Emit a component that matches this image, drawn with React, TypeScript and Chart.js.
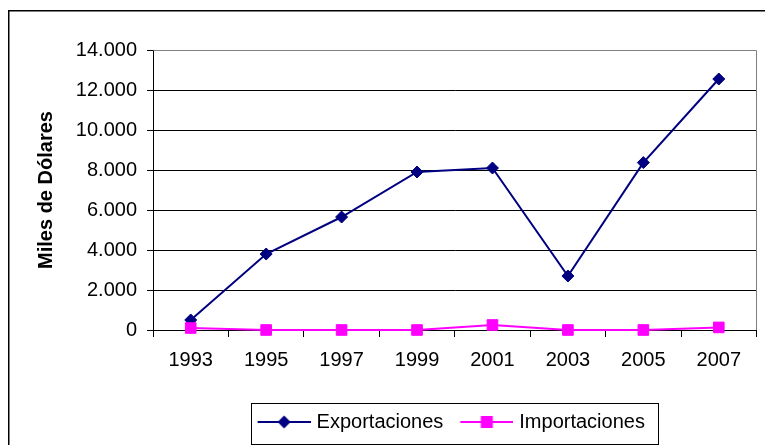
import React, { useEffect, useRef } from "react";
import { Chart, registerables } from "chart.js";

Chart.register(...registerables);

const years = ["1993", "1995", "1997", "1999", "2001", "2003", "2005", "2007"];
const exportaciones = [500, 3800, 5650, 7900, 8100, 2700, 8370, 12550];
const importaciones = [100, 0, 0, 0, 250, 0, 0, 130];
const seriesNames = ["Exportaciones", "Importaciones"];
const yAxisTitle = "Miles de Dólares";
const yMin = 0;
const yMax = 14000;
const yStep = 2000;

const NAVY = "#000080";
const MAGENTA = "#FF00FF";
const FONT = "'Liberation Sans', Arial, sans-serif";

function makeSwatch(color: string, kind: "diamond" | "square"): HTMLCanvasElement {
  const c = document.createElement("canvas");
  c.width = 64;
  c.height = 16;
  const g = c.getContext("2d")!;
  g.strokeStyle = color;
  g.lineWidth = 2;
  g.beginPath();
  g.moveTo(11, 8);
  g.lineTo(64, 8);
  g.stroke();
  g.fillStyle = color;
  const cx = 37.5;
  if (kind === "diamond") {
    g.beginPath();
    g.moveTo(cx - 6.5, 8);
    g.lineTo(cx, 1.5);
    g.lineTo(cx + 6.5, 8);
    g.lineTo(cx, 14.5);
    g.closePath();
    g.fill();
  } else {
    g.fillRect(cx - 6, 2, 12, 12);
  }
  return c;
}

export default function App() {
  const ref = useRef<HTMLCanvasElement | null>(null);

  useEffect(() => {
    if (!ref.current) return;
    const swatches = [makeSwatch(NAVY, "diamond"), makeSwatch(MAGENTA, "square")];

    const framePlugin = {
      id: "frame",
      afterLayout(chart: any) {
        const lg = chart.legend;
        if (lg) {
          lg.left -= 7;
          lg.right -= 7;
        }
      },
      beforeDraw(chart: any) {
        const ctx = chart.ctx;
        ctx.save();
        ctx.fillStyle = "#fff";
        ctx.fillRect(0, 0, chart.width, chart.height);
        ctx.strokeStyle = "#000";
        ctx.lineWidth = 1.5;
        ctx.strokeRect(8.75, 10.75, 1000, 1000);
        ctx.restore();
      },
      beforeDatasetsDraw(chart: any) {
        const { ctx, chartArea } = chart;
        ctx.save();
        ctx.strokeStyle = "#808080";
        ctx.lineWidth = 1;
        ctx.beginPath();
        ctx.moveTo(Math.round(chartArea.left) + 0.5, Math.round(chartArea.top) + 0.5);
        ctx.lineTo(Math.round(chartArea.right) - 0.5, Math.round(chartArea.top) + 0.5);
        ctx.lineTo(Math.round(chartArea.right) - 0.5, Math.round(chartArea.bottom));
        ctx.stroke();
        ctx.restore();
      },
      afterDraw(chart: any) {
        const lg = chart.legend;
        if (!lg || !lg.legendHitBoxes || !lg.legendHitBoxes.length) return;
        const hb = lg.legendHitBoxes;
        const first = hb[0];
        const last = hb[hb.length - 1];
        const left = Math.round(first.left) + 0.5;
        const right = Math.round(last.left + last.width + 13) + 0.5;
        const top = Math.round(first.top - 9) + 0.5;
        const bottom = Math.round(first.top + first.height + 12) + 0.5;
        const ctx = chart.ctx;
        ctx.save();
        ctx.strokeStyle = "#000";
        ctx.lineWidth = 1;
        ctx.strokeRect(left, top, right - left, bottom - top);
        ctx.restore();
      },
    };

    const chart = new Chart(ref.current, {
      type: "line",
      data: {
        labels: years,
        datasets: [
          {
            label: seriesNames[0],
            data: exportaciones,
            borderColor: NAVY,
            backgroundColor: NAVY,
            borderWidth: 2,
            pointStyle: "rectRot",
            pointRadius: 6,
            pointBorderWidth: 1,
            pointBackgroundColor: NAVY,
            pointBorderColor: NAVY,
            tension: 0,
            clip: false,
            order: 1,
          },
          {
            label: seriesNames[1],
            data: importaciones,
            borderColor: MAGENTA,
            backgroundColor: MAGENTA,
            borderWidth: 2,
            pointStyle: "rect",
            pointRadius: 7.5,
            pointBorderWidth: 1,
            pointBackgroundColor: MAGENTA,
            pointBorderColor: MAGENTA,
            tension: 0,
            clip: false,
            order: 0,
          },
        ],
      },
      options: {
        responsive: false,
        animation: false,
        devicePixelRatio: 1,
        layout: { padding: { top: 50, right: 5, left: 0, bottom: 3 } },
        font: { family: FONT, size: 20 },
        color: "#000",
        plugins: {
          tooltip: { enabled: false },
          legend: {
            position: "bottom",
            fullSize: false,
            labels: {
              usePointStyle: true,
              pointStyleWidth: 56,
              boxWidth: 56,
              padding: 10,
              color: "#000",
              font: { family: FONT, size: 20 },
              generateLabels: (chart: any) =>
                chart.data.datasets.map((ds: any, i: number) => ({
                  text: ds.label,
                  datasetIndex: i,
                  pointStyle: swatches[i],
                  fillStyle: ds.borderColor,
                  strokeStyle: ds.borderColor,
                  lineWidth: 0,
                  hidden: false,
                  fontColor: "#000",
                })),
            },
          },
        },
        scales: {
          x: {
            type: "category",
            offset: true,
            afterFit: (s: any) => {
              s.height = 72;
            },
            grid: {
              display: true,
              offset: true,
              drawOnChartArea: false,
              drawTicks: true,
              tickLength: 7,
              color: "#000",
            },
            border: { display: true, color: "#000", width: 1 },
            ticks: {
              color: "#000",
              padding: 11,
              maxRotation: 0,
              autoSkip: false,
              font: { family: FONT, size: 20 },
            },
          },
          y: {
            min: yMin,
            max: yMax,
            afterFit: (s: any) => {
              s.width = 153;
            },
            grid: {
              color: (c: any) => (c.tick && c.tick.value === yMax ? "rgba(0,0,0,0)" : "#000"),
              tickColor: "#000",
              tickLength: 6,
              drawTicks: true,
            },
            border: { display: true, color: "#000", width: 1 },
            ticks: {
              stepSize: yStep,
              padding: 10,
              color: "#000",
              font: { family: FONT, size: 20 },
              callback: (v: any) => Number(v).toLocaleString("de-DE"),
            },
            title: {
              display: true,
              text: yAxisTitle,
              color: "#000",
              font: { family: FONT, size: 20, weight: "bold" },
              padding: { top: 34, bottom: 0 },
            },
          },
        },
      },
      plugins: [framePlugin],
    });
    return () => chart.destroy();
  }, []);

  return (
    <div style={{ position: "fixed", left: 0, top: 0, width: 765, height: 445, background: "#fff" }}>
      <canvas ref={ref} width={765} height={445} style={{ display: "block", width: 765, height: 445 }} />
    </div>
  );
}
